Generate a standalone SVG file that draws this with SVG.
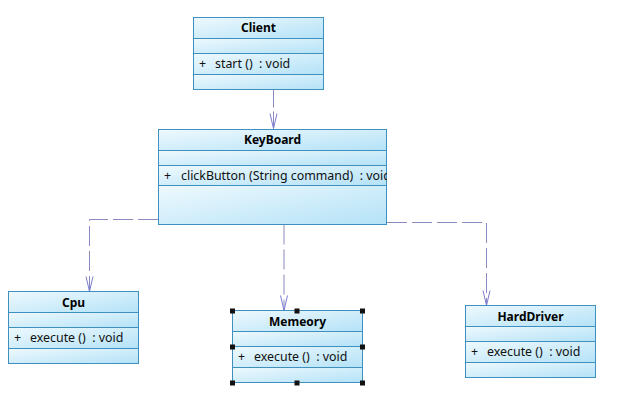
<svg xmlns="http://www.w3.org/2000/svg" width="644" height="420" viewBox="0 0 644 420">
<defs>
<linearGradient id="g" x1="0" y1="0" x2="1" y2="1">
<stop offset="0" stop-color="#eef9fe"/>
<stop offset="1" stop-color="#b4e2f7"/>
</linearGradient>
<clipPath id="kbclip"><rect x="158" y="129" width="229" height="95"/></clipPath>
<marker id="arr" markerWidth="18" markerHeight="10" refX="16" refY="5" orient="auto" markerUnits="userSpaceOnUse" viewBox="0 0 18 10">
<path d="M1,1.5 L16,5 L1,8.5" fill="none" stroke="#7c7cd0" stroke-width="1"/>
</marker>
<style>
.c{fill:url(#g);stroke:#3f8fbf;stroke-width:1}
.t{font-family:"Noto Sans","Liberation Sans",sans-serif;font-size:12px;font-weight:bold;fill:#000;text-anchor:middle}
.o{font-family:"Noto Sans","Liberation Sans",sans-serif;font-size:12.4px;fill:#111;white-space:pre}
.l{fill:none;stroke:#8a8ac0;stroke-width:1;stroke-dasharray:20 5}
.h{fill:#111}
</style>
</defs>
<rect width="644" height="420" fill="#fff"/>
<g id="connectors">
<path class="l" d="M273.5,89.5 V128.5" marker-end="url(#arr)" style="stroke-dasharray:18 4"/>
<path class="l" d="M158,219.5 H89.5 V291.5" marker-end="url(#arr)"/>
<path class="l" d="M284,224.5 V310.5" marker-end="url(#arr)"/>
<path class="l" d="M387,222.5 H486.5 V305.5" marker-end="url(#arr)"/>
</g>
<g id="client">
<rect class="c" x="193.5" y="17.5" width="130" height="21"/>
<rect class="c" x="193.5" y="38.5" width="130" height="15"/>
<rect class="c" x="193.5" y="53.5" width="130" height="21"/>
<rect class="c" x="193.5" y="74.5" width="130" height="15"/>
<text class="t" x="258.5" y="32">Client</text>
<text class="o" x="199" y="68">+</text>
<text class="o" x="215" y="68">start ()  : void</text>
</g>
<g id="keyboard">
<rect class="c" x="158.5" y="129.5" width="228" height="21"/>
<rect class="c" x="158.5" y="150.5" width="228" height="15"/>
<rect class="c" x="158.5" y="165.5" width="228" height="20"/>
<rect class="c" x="158.5" y="185.5" width="228" height="39"/>
<text class="t" x="272.5" y="144">KeyBoard</text>
<g clip-path="url(#kbclip)">
<text class="o" x="164" y="180">+</text>
<text class="o" x="181" y="180">clickButton (String command)  : void</text>
</g>
</g>
<g id="cpu">
<rect class="c" x="8.5" y="291.5" width="130" height="21"/>
<rect class="c" x="8.5" y="312.5" width="130" height="15"/>
<rect class="c" x="8.5" y="327.5" width="130" height="21"/>
<rect class="c" x="8.5" y="348.5" width="130" height="15"/>
<text class="t" x="73.5" y="306.5">Cpu</text>
<text class="o" x="14" y="342">+</text>
<text class="o" x="30" y="342">execute ()  : void</text>
</g>
<g id="memeory">
<rect class="c" x="232.5" y="310.5" width="130" height="21"/>
<rect class="c" x="232.5" y="331.5" width="130" height="15"/>
<rect class="c" x="232.5" y="346.5" width="130" height="21"/>
<rect class="c" x="232.5" y="367.5" width="130" height="15"/>
<text class="t" x="297.5" y="325.5">Memeory</text>
<text class="o" x="238" y="361">+</text>
<text class="o" x="254" y="361">execute ()  : void</text>
<rect class="h" x="230" y="308.5" width="5" height="5"/>
<rect class="h" x="294.5" y="308.5" width="5" height="5"/>
<rect class="h" x="360" y="308.5" width="5" height="5"/>
<rect class="h" x="230" y="344.5" width="5" height="5"/>
<rect class="h" x="360" y="344.5" width="5" height="5"/>
<rect class="h" x="230" y="380.5" width="5" height="5"/>
<rect class="h" x="294.5" y="380.5" width="5" height="5"/>
<rect class="h" x="360" y="380.5" width="5" height="5"/>
</g>
<g id="harddriver">
<rect class="c" x="465.5" y="305.5" width="130" height="21"/>
<rect class="c" x="465.5" y="326.5" width="130" height="15"/>
<rect class="c" x="465.5" y="341.5" width="130" height="21"/>
<rect class="c" x="465.5" y="362.5" width="130" height="15"/>
<text class="t" x="530.5" y="320.5">HardDriver</text>
<text class="o" x="471" y="356">+</text>
<text class="o" x="487" y="356">execute ()  : void</text>
</g>
</svg>
